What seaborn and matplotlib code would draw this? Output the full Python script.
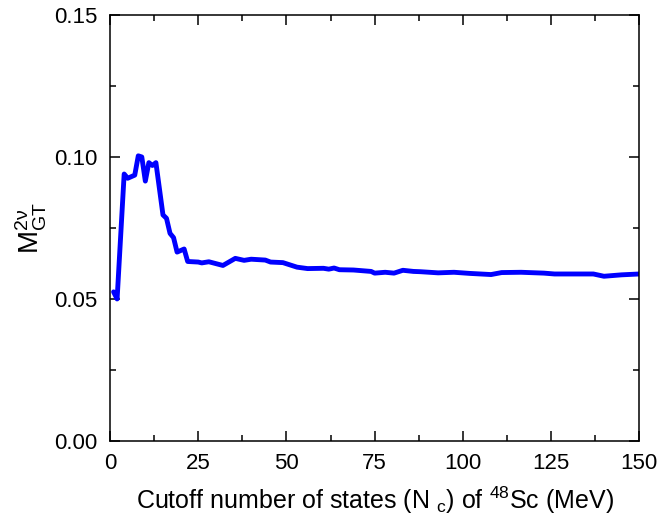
import matplotlib
matplotlib.use("Agg")
import matplotlib.pyplot as plt
from matplotlib.ticker import MultipleLocator
import seaborn as sns
import pandas as pd

# Cumulative GT matrix element versus number of intermediate 48Sc states
n_states = [1, 2, 4, 5, 7, 8, 9, 10, 11, 12, 13, 15, 16, 17, 18, 19, 21, 22,
            25, 26, 28, 32, 35.5, 38, 40, 44, 45.5, 49, 51, 53, 56, 60.5, 62,
            63.5, 65, 69, 74, 75, 78, 80.5, 83, 86, 88, 93, 97.5, 102, 108,
            111, 116.5, 123, 126, 137, 140, 145, 150]
m_gt = [0.0525, 0.0500, 0.0940, 0.0925, 0.0936, 0.1004, 0.1000, 0.0915,
        0.0980, 0.0970, 0.0980, 0.0796, 0.0784, 0.0731, 0.0716, 0.0665,
        0.0676, 0.0632, 0.0630, 0.0627, 0.0631, 0.0618, 0.0643, 0.0636,
        0.0640, 0.0637, 0.0630, 0.0628, 0.0620, 0.0612, 0.0607, 0.0608,
        0.0605, 0.0609, 0.0603, 0.0602, 0.0597, 0.0591, 0.0594, 0.0591,
        0.0601, 0.0597, 0.0596, 0.0592, 0.0594, 0.0590, 0.0586, 0.0593,
        0.0594, 0.0591, 0.0588, 0.0588, 0.0580, 0.0585, 0.0588]

x_ticks = [0, 25, 50, 75, 100, 125, 150]
y_ticks = [0.00, 0.05, 0.10, 0.15]

sns.set_theme(style="ticks")
plt.rcParams["font.family"] = ["Liberation Sans", "DejaVu Sans"]
plt.rcParams["mathtext.fontset"] = "custom"
plt.rcParams["mathtext.rm"] = "Liberation Sans"
plt.rcParams["mathtext.it"] = "Liberation Sans:italic"
plt.rcParams["text.color"] = "black"
plt.rcParams["axes.labelcolor"] = "black"

df = pd.DataFrame({"n": n_states, "m": m_gt})

fig = plt.figure(figsize=(6.59, 5.26), dpi=100)
ax = fig.add_axes([0.167, 0.1616, 0.803, 0.81])

sns.lineplot(data=df, x="n", y="m", ax=ax, color="#0000ff", linewidth=3.5,
             sort=False, estimator=None)

ax.set_xlim(0, 150)
ax.set_ylim(0, 0.15)
ax.set_xticks(x_ticks)
ax.set_yticks(y_ticks)
ax.set_yticklabels([f"{v:.2f}" for v in y_ticks])
ax.xaxis.set_minor_locator(MultipleLocator(12.5))
ax.yaxis.set_minor_locator(MultipleLocator(0.025))

ax.tick_params(which="both", direction="in", top=True, right=True,
               colors="black", labelcolor="black", labelsize=16, width=1.1)
ax.tick_params(which="major", length=7)
ax.tick_params(which="minor", length=4)
ax.tick_params(axis="x", which="major", pad=9)
ax.tick_params(axis="y", which="major", pad=9)

for sp in ax.spines.values():
    sp.set_visible(True)
    sp.set_color("black")
    sp.set_linewidth(1.1)

ax.set_xlabel(r"Cutoff number of states (N $_\mathregular{c}$) of $^\mathregular{48}$Sc (MeV)",
              fontsize=18, labelpad=7, color="black")
ax.set_ylabel(r"$\mathregular{M^{2\nu}_{GT}}$", fontsize=20, labelpad=4, color="black")

fig.savefig("out.png", dpi=100)
